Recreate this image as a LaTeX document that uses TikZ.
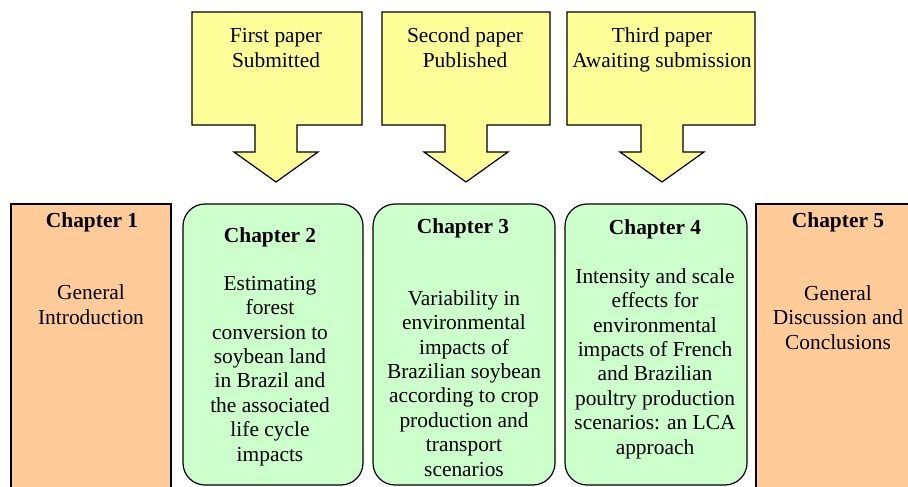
\documentclass[tikz,border=0pt]{standalone}
\usepackage{fontspec}
\setmainfont{Liberation Serif}
\definecolor{paperyellow}{HTML}{FFFF99}
\definecolor{chgreen}{HTML}{CCFFCC}
\definecolor{chpeach}{HTML}{FFCC99}
\begin{document}
\begin{tikzpicture}[x=1pt,y=-1pt,
    paper/.style={draw=black,line width=1.2pt,fill=paperyellow,line join=miter},
    sidebox/.style={draw=black,line width=1.2pt,fill=chpeach,inner sep=0pt},
    chbox/.style={draw=black,line width=1.2pt,fill=chgreen,rounded corners=22pt,inner sep=0pt},
    txt/.style={align=center,anchor=base,inner sep=0pt,font=\fontsize{21.4}{24.4}\selectfont},
    ttl/.style={txt,font=\fontsize{21.4}{24.4}\selectfont\bfseries}]
  \clip (0,0) rectangle (908,487);
  \useasboundingbox (0,0) rectangle (908,487);

  % papers (text anchored on the baseline of the last line)
  \draw[paper] (192,12) -- (362,12) -- (362,125) -- (297,125) -- (297,152) -- (318,152)
    -- (276,182) -- (234,152) -- (255,152) -- (255,125) -- (192,125) -- cycle;
  \draw[paper] (382,12) -- (550,12) -- (550,125) -- (487,125) -- (487,152) -- (508,152)
    -- (466,182) -- (424,152) -- (445,152) -- (445,125) -- (382,125) -- cycle;
  \draw[paper] (567,12) -- (755,12) -- (755,125) -- (683,125) -- (683,152) -- (704,152)
    -- (662,182) -- (620,152) -- (641,152) -- (641,125) -- (567,125) -- cycle;
  \node[txt] (p1) at (276,67) {First paper\\Submitted};
  \node[txt] (p2) at (465,67) {Second paper\\Published};
  \node[txt] (p3) at (662,67) {Third paper\\Awaiting submission};

  % chapters
  \node[sidebox,minimum width=160pt,minimum height=300pt] (ch1) at (91,354) {};
  \node[chbox,minimum width=180pt,minimum height=281pt] (ch2) at (273,344.5) {};
  \node[chbox,minimum width=182pt,minimum height=281pt] (ch3) at (464,344.5) {};
  \node[chbox,minimum width=182pt,minimum height=281pt] (ch4) at (656,344.5) {};
  \node[sidebox,minimum width=164pt,minimum height=300pt] (ch5) at (838,354) {};

  \node[ttl] (t1) at (92,227) {Chapter 1};
  \node[txt] (b1) at (91,324) {General\\Introduction};
  \node[ttl] (t2) at (270,242) {Chapter 2};
  \node[txt] (b2) at (270,461) {Estimating\\forest\\conversion to\\soybean land\\in Brazil and\\the associated\\life cycle\\impacts};
  \node[ttl] (t3) at (463,233) {Chapter 3};
  \node[txt] (b3) at (464,476) {Variability in\\environmental\\impacts of\\Brazilian soybean\\according to crop\\production and\\transport\\scenarios};
  \node[ttl] (t4) at (655,234) {Chapter 4};
  \node[txt] (b4) at (655,454) {Intensity and scale\\effects for\\environmental\\impacts of French\\and Brazilian\\poultry production\\scenarios: an LCA\\approach};
  \node[ttl] (t5) at (838,227) {Chapter 5};
  \node[txt] (b5) at (838,349) {General\\Discussion and\\Conclusions};
\end{tikzpicture}
\end{document}
